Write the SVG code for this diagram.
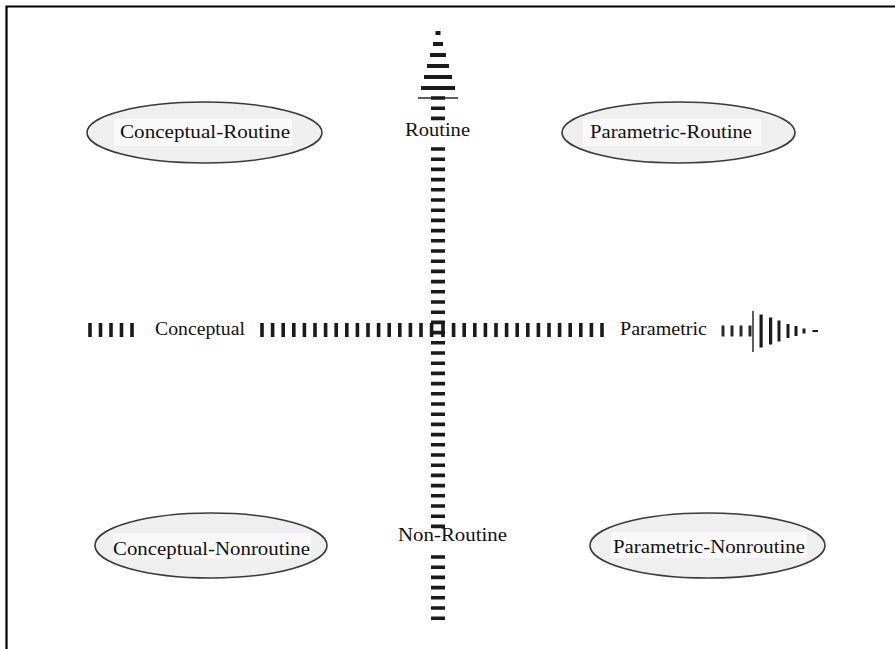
<svg xmlns="http://www.w3.org/2000/svg" width="895" height="649" viewBox="0 0 895 649">
  <style>
    .lbl { font-family: "Liberation Serif", "Times New Roman", serif; font-size: 18px; fill: #111; }
    .node ellipse { fill: #eeefee; stroke: #3a3a3a; stroke-width: 1.6; }
    .node rect { fill: #f8f9f8; }
    .vdash { stroke: #1a1a1a; stroke-width: 14; stroke-dasharray: 3.6 6.6; fill: none; }
    .hdash { stroke: #1a1a1a; stroke-width: 14; stroke-dasharray: 3.6 7; fill: none; }
    .head { fill: #1a1a1a; }
  </style>

  <rect width="895" height="649" fill="#ffffff"/>
  <!-- frame -->
  <path d="M6.5 649 V6.5 H895" fill="none" stroke="#000" stroke-width="2.2"/>

  <g id="connectors">
    <!-- vertical axis: Routine (up) / Non-Routine -->
    <g id="axis-vertical">
      <line class="vdash" x1="438" y1="96.2" x2="438" y2="120.2"/>
      <line class="vdash" x1="438" y1="147.2" x2="438" y2="528.2"/>
      <line class="vdash" x1="438" y1="555.2" x2="438" y2="620"/>
      <!-- striped arrowhead -->
      <rect class="head" x="435.5" y="31" width="5" height="4"/>
      <rect class="head" x="433" y="42" width="10" height="4"/>
      <rect class="head" x="430" y="53" width="16" height="4"/>
      <rect class="head" x="427" y="64" width="22" height="4"/>
      <rect class="head" x="424" y="75" width="28" height="4"/>
      <rect class="head" x="421" y="86" width="34" height="4"/>
      <rect class="head" x="418" y="97.3" width="40" height="1.4"/>
    </g>
    <!-- horizontal axis: Conceptual / Parametric (right) -->
    <g id="axis-horizontal">
      <line class="hdash" x1="88.2" y1="330" x2="134.5" y2="330" style="stroke-dasharray:3.6 6.9"/>
      <line class="hdash" x1="260.2" y1="330" x2="433.5" y2="330"/>
      <line class="hdash" x1="441.2" y1="330" x2="604" y2="330"/>
      <line x1="721.5" y1="331" x2="751.5" y2="331" stroke="#2a2a2a" stroke-width="11" stroke-dasharray="3 6"/>
      <!-- striped arrowhead -->
      <rect class="head" x="752.3" y="311" width="1.4" height="41"/>
      <rect class="head" x="759.5" y="314.5" width="3.2" height="33"/>
      <rect class="head" x="769" y="317.5" width="3.2" height="27"/>
      <rect class="head" x="777.5" y="320.5" width="3" height="21"/>
      <rect class="head" x="786.5" y="324" width="3" height="14"/>
      <rect class="head" x="794.5" y="326" width="3" height="10"/>
      <rect class="head" x="802.5" y="328.5" width="3" height="5"/>
      <rect class="head" x="812.5" y="330" width="5.5" height="2"/>
    </g>
  </g>

  <!-- axis labels -->
  <g id="label-routine"><text class="lbl" x="405" y="136" textLength="65" lengthAdjust="spacingAndGlyphs">Routine</text></g>
  <g id="label-nonroutine"><text class="lbl" x="398" y="541" textLength="109" lengthAdjust="spacingAndGlyphs">Non-Routine</text></g>
  <g id="label-conceptual"><text class="lbl" x="155" y="335" textLength="90" lengthAdjust="spacingAndGlyphs">Conceptual</text></g>
  <g id="label-parametric"><text class="lbl" x="620" y="335" textLength="87" lengthAdjust="spacingAndGlyphs">Parametric</text></g>

  <!-- quadrant nodes -->
  <g id="conceptual-routine" class="node">
    <ellipse cx="204.5" cy="132.5" rx="117.5" ry="30.5"/>
    <rect x="114" y="119" width="178" height="27"/>
    <text class="lbl" x="120" y="138" textLength="170" lengthAdjust="spacingAndGlyphs">Conceptual-Routine</text>
  </g>
  <g id="parametric-routine" class="node">
    <ellipse cx="678.5" cy="132.5" rx="116.5" ry="30.5"/>
    <rect x="583" y="119" width="178" height="27"/>
    <text class="lbl" x="590" y="138" textLength="162" lengthAdjust="spacingAndGlyphs">Parametric-Routine</text>
  </g>
  <g id="conceptual-nonroutine" class="node">
    <ellipse cx="211" cy="545.5" rx="116" ry="32.5"/>
    <rect x="113" y="533" width="198" height="26"/>
    <text class="lbl" x="113" y="555" textLength="197" lengthAdjust="spacingAndGlyphs">Conceptual-Nonroutine</text>
  </g>
  <g id="parametric-nonroutine" class="node">
    <ellipse cx="707.5" cy="545.5" rx="117.5" ry="32.5"/>
    <rect x="611" y="532" width="196" height="26"/>
    <text class="lbl" x="613" y="553" textLength="192" lengthAdjust="spacingAndGlyphs">Parametric-Nonroutine</text>
  </g>
</svg>
